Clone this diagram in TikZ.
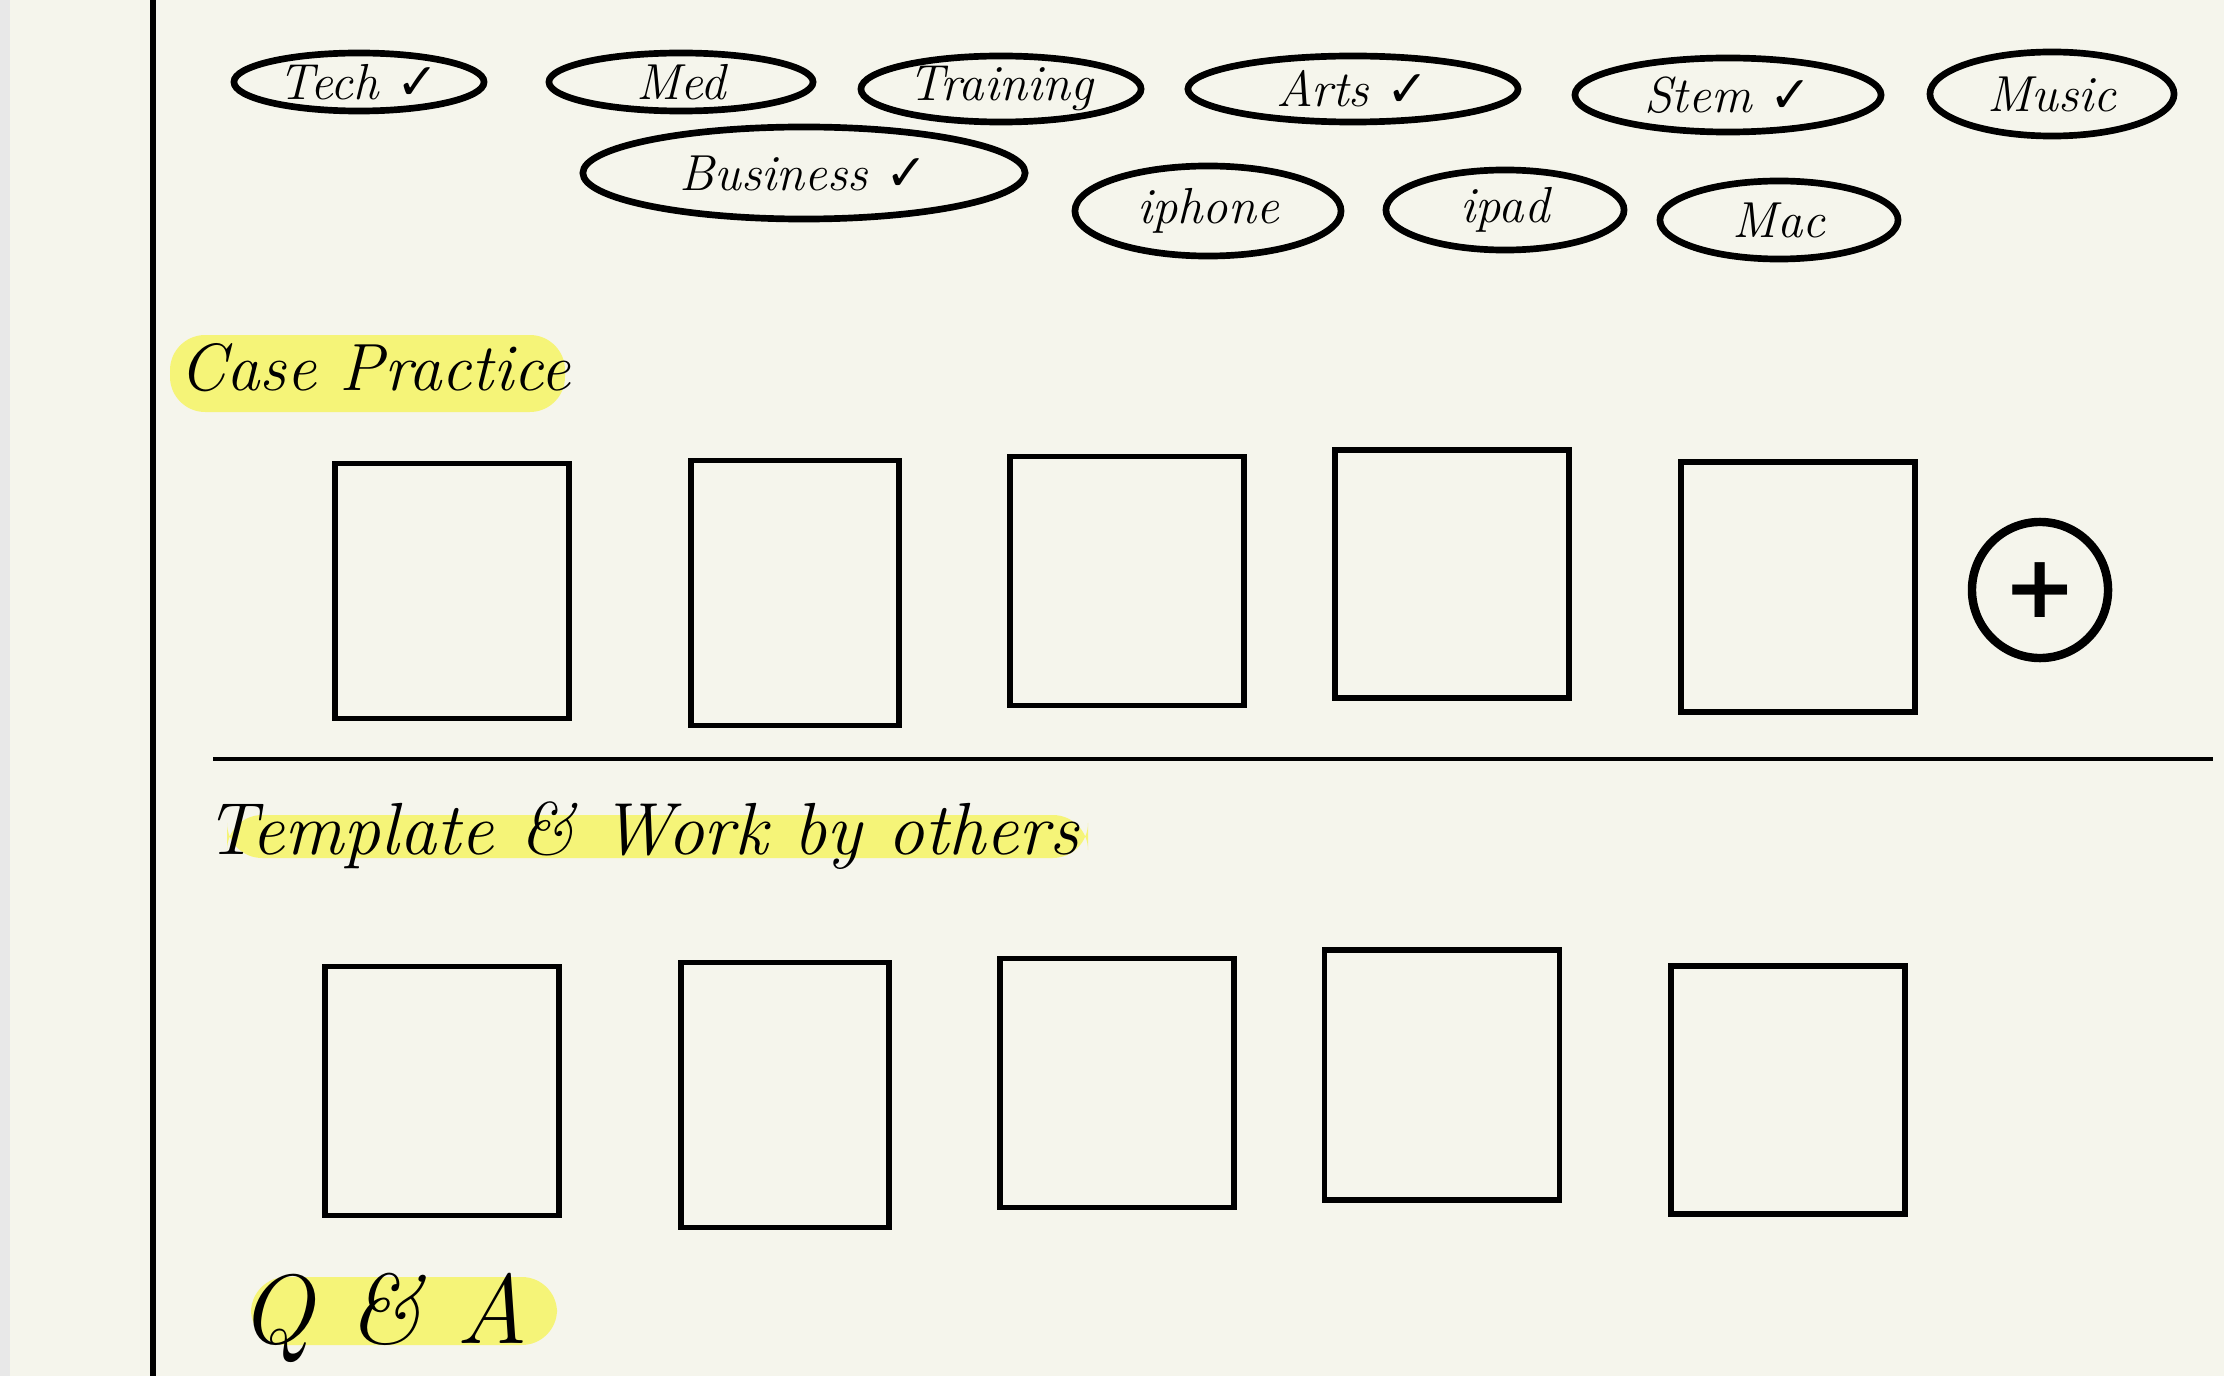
\documentclass[tikz,border=0pt]{standalone}
\usepackage{fontspec}
\newfontfamily\symfont{DejaVu Sans}
\usepackage{tikz}
\usetikzlibrary{positioning,shapes.geometric}
\definecolor{paper}{RGB}{245,245,236}
\definecolor{marker}{RGB}{245,244,120}
\newcommand{\tick}{{\symfont\char"2713}}

\begin{document}
\begin{tikzpicture}[x=0.01cm, y=-0.01cm,
    tag/.style={ellipse, draw, line width=1.9pt, inner sep=0pt, font=\Large\itshape},
    card/.style={rectangle, draw, line width=1.6pt, inner sep=0pt},
    heading/.style={font=\fontsize{19}{23}\selectfont\itshape, inner sep=0pt},
    highlight/.style={fill=marker, rounded corners=10pt}]

    % ================= PAGE =================
    \useasboundingbox (0, 0) rectangle (2224, 1376);
    \fill[paper] (0, 0) rectangle (2224, 1376);
    \fill[gray!18] (0, 0) rectangle (10, 1376);
    \draw[line width=1.5pt] (153, 0) -- (153, 1376);

    % ================= TAGS =================
    \node[tag, minimum width=2.50cm, minimum height=0.58cm] (tech) at (359, 82) {Tech \tick};
    \node[tag, minimum width=2.64cm, minimum height=0.58cm] (med) at (681, 82) {Med};
    \node[tag, minimum width=2.80cm, minimum height=0.66cm] (training) at (1001, 89) {Training};
    \node[tag, minimum width=3.30cm, minimum height=0.66cm] (arts) at (1353, 89) {Arts \tick};
    \node[tag, minimum width=3.06cm, minimum height=0.74cm] (stem) at (1728, 95) {Stem \tick};
    \node[tag, minimum width=2.44cm, minimum height=0.84cm] (music) at (2052, 94) {Music};
    \node[tag, minimum width=4.42cm, minimum height=0.92cm] (business) at (804, 173) {Business \tick};
    \node[tag, minimum width=2.66cm, minimum height=0.90cm] (iphone) at (1208, 211) {iphone};
    \node[tag, minimum width=2.38cm, minimum height=0.80cm] (ipad) at (1505, 210) {ipad};
    \node[tag, minimum width=2.38cm, minimum height=0.78cm] (mac) at (1779, 220) {Mac};

    % ================= CASE PRACTICE =================
    \fill[highlight] (170, 335) rectangle (565, 412);
    \node[heading] (case) at (375, 368) {Case Practice};

    \node[card, minimum width=2.34cm, minimum height=2.55cm] (case1) at (452, 591) {};
    \node[card, minimum width=2.08cm, minimum height=2.65cm] (case2) at (795, 593) {};
    \node[card, minimum width=2.34cm, minimum height=2.49cm] (case3) at (1127, 581) {};
    \node[card, minimum width=2.34cm, minimum height=2.48cm] (case4) at (1452, 574) {};
    \node[card, minimum width=2.34cm, minimum height=2.50cm] (case5) at (1798, 587) {};

    % Add button
    \node[circle, draw, line width=2.4pt, minimum size=1.36cm, inner sep=0pt,
          font=\Huge\symfont\bfseries] (add) at (2040, 590) {+};

    % ================= TEMPLATE & WORK BY OTHERS =================
    \draw[line width=1pt] (213, 759) -- (2213, 759);
    \fill[highlight] (227, 815) rectangle (1088, 858);
    \node[heading, font=\fontsize{21}{25}\selectfont\itshape] (template) at (642, 836) {Template \& Work by others};

    \node[card, minimum width=2.34cm, minimum height=2.49cm] (tpl1) at (442, 1091) {};
    \node[card, minimum width=2.08cm, minimum height=2.65cm] (tpl2) at (785, 1095) {};
    \node[card, minimum width=2.34cm, minimum height=2.49cm] (tpl3) at (1117, 1083) {};
    \node[card, minimum width=2.35cm, minimum height=2.50cm] (tpl4) at (1442, 1075) {};
    \node[card, minimum width=2.34cm, minimum height=2.48cm] (tpl5) at (1788, 1090) {};

    % ================= Q & A =================
    \fill[highlight] (251, 1277) rectangle (557, 1345);
    \node[heading, font=\fontsize{28}{32}\selectfont\itshape] (qa) at (384, 1318) {Q \& A};

\end{tikzpicture}
\end{document}
